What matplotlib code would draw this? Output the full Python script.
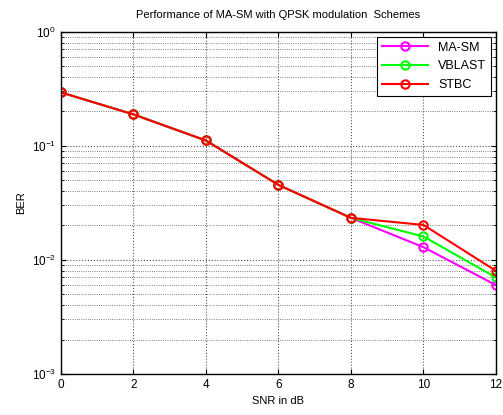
import matplotlib
matplotlib.use('Agg')
import matplotlib.pyplot as plt
import numpy as np

plt.rcParams['font.family'] = ['Liberation Sans', 'DejaVu Sans']
plt.rcParams['mathtext.default'] = 'regular'
plt.rcParams['axes.unicode_minus'] = False
plt.rcParams['font.size'] = 8

snr = [0, 2, 4, 6, 8, 10, 12]
ber_masm = [0.293, 0.188, 0.111, 0.0453, 0.0233, 0.0129, 0.0060]
ber_vblast = [0.293, 0.188, 0.111, 0.0453, 0.0233, 0.0160, 0.0070]
ber_stbc = [0.293, 0.188, 0.111, 0.0453, 0.0233, 0.0202, 0.0080]

fig = plt.figure(figsize=(5.03, 4.15), dpi=100)
ax = fig.add_axes([0.121, 0.099, 0.865, 0.825])

ax.semilogy(snr, ber_masm, '-o', color='magenta', lw=1.5, ms=6, mfc='none', mew=1.5, label='MA-SM')
ax.semilogy(snr, ber_vblast, '-o', color='lime', lw=1.5, ms=6, mfc='none', mew=1.5, label='VBLAST')
ax.semilogy(snr, ber_stbc, '-o', color='red', lw=1.5, ms=6, mfc='none', mew=1.5, label='STBC')

ax.set_xlim(0, 12)
ax.set_ylim(1e-3, 1)
ax.set_xticks(snr)
ax.grid(True, which='major', ls=':', color='#555555', lw=0.8)
ax.grid(True, which='minor', ls=':', color='#555555', lw=0.6)
ax.tick_params(which='both', direction='in', top=True, right=True)
ax.tick_params(axis='both', labelsize=8.5)
for s in ax.spines.values():
    s.set_linewidth(1.0)

ax.set_xlabel('SNR in dB', labelpad=4)
ax.set_ylabel('BER')
ax.set_title('Performance of MA-SM with QPSK modulation  Schemes', fontsize=8, pad=10)

leg = ax.legend(loc='upper right', fancybox=False, framealpha=1, edgecolor='black',
                fontsize=9, handlelength=3.7, labelspacing=0.55, borderaxespad=0.4)
leg.get_frame().set_linewidth(0.8)

fig.savefig('out.png', dpi=100)
